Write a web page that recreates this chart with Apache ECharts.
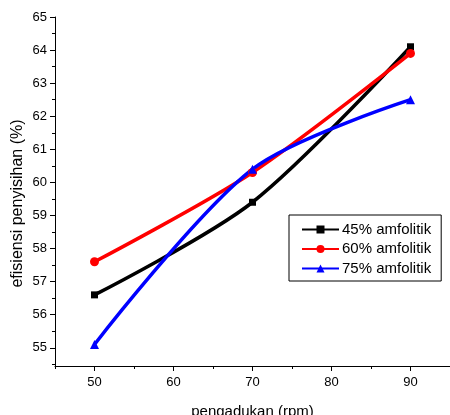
<!DOCTYPE html>
<html>
<head>
<meta charset="utf-8">
<script src="https://cdn.jsdelivr.net/npm/echarts@6/dist/echarts.min.js"></script>
<style>
  html, body { margin: 0; padding: 0; background: #fff; }
  #chart { width: 450px; height: 415px; }
</style>
</head>
<body>
<div id="chart"></div>
<script>
// pengadukan (rpm)
const rpm = [50, 70, 90];
const amf45 = [56.6, 59.4, 64.1];
const amf60 = [57.6, 60.3, 63.9];
const amf75 = [55.1, 60.4, 62.5];
const names = ['45% amfolitik', '60% amfolitik', '75% amfolitik'];
const yTicks = [55, 56, 57, 58, 59, 60, 61, 62, 63, 64, 65];
const yMinor = [54.5, 55.5, 56.5, 57.5, 58.5, 59.5, 60.5, 61.5, 62.5, 63.5, 64.5];
const xTicks = [50, 60, 70, 80, 90];
const xMinor = [45, 55, 65, 75, 85, 95];

const font = 'Liberation Sans, Arial, sans-serif';
const Y_MIN = 54.45, Y_MAX = 65;

function pairs(ys) {
  return rpm.map((x, i) => [x, ys[i]]);
}

function mkSeries(name, ys, color, symbol, size) {
  return {
    name: name,
    type: 'line',
    data: pairs(ys),
    smooth: 0.3,
    symbol: symbol,
    symbolSize: size,
    showAllSymbol: true,
    lineStyle: { color: color, width: 3.5 },
    itemStyle: { color: color },
    z: 3
  };
}

const chart = echarts.init(document.getElementById('chart'));
chart.setOption({
  animation: false,
  backgroundColor: '#fff',
  grid: { left: 55, top: 17, right: 0, bottom: 49, containLabel: false, outerBoundsMode: 'none' },
  legend: {
    orient: 'vertical',
    left: 289,
    top: 215,
    padding: [7, 10, 5, 12],
    itemGap: 4.5,
    itemWidth: 37,
    itemHeight: 10,
    borderColor: '#000',
    borderWidth: 1,
    backgroundColor: '#fff',
    textStyle: { fontFamily: font, fontSize: 15, color: '#000', padding: [0, 0, 0, -2] },
    data: names
  },
  xAxis: [{
    type: 'value',
    min: 45,
    max: 95,
    name: 'pengadukan (rpm)',
    nameLocation: 'middle',
    nameGap: 38,
    nameMoveOverlap: false,
    nameTextStyle: { fontFamily: font, fontSize: 15, color: '#000' },
    axisLine: { show: true, lineStyle: { color: '#000', width: 1 } },
    axisTick: { show: true, length: 5, customValues: xTicks, lineStyle: { color: '#000' } },
    axisLabel: { fontFamily: font, fontSize: 13, color: '#000', margin: 10, customValues: xTicks },
    splitLine: { show: false }
  }, {
    type: 'value',
    position: 'bottom',
    min: 45,
    max: 95,
    axisLine: { show: false },
    axisTick: { show: true, length: 3, customValues: xMinor, lineStyle: { color: '#000' } },
    axisLabel: { show: false },
    splitLine: { show: false }
  }],
  yAxis: [{
    type: 'value',
    min: Y_MIN,
    max: Y_MAX,
    name: 'efisiensi penyisihan (%)',
    nameLocation: 'middle',
    nameGap: 29,
    nameMoveOverlap: false,
    nameTextStyle: { fontFamily: font, fontSize: 16, color: '#000', padding: [0, 24, 0, 0] },
    axisLine: { show: true, lineStyle: { color: '#000', width: 1 } },
    axisTick: { show: true, length: 5, customValues: yTicks, lineStyle: { color: '#000' } },
    axisLabel: { fontFamily: font, fontSize: 13, color: '#000', margin: 8, customValues: yTicks },
    splitLine: { show: false }
  }, {
    type: 'value',
    position: 'left',
    min: Y_MIN,
    max: Y_MAX,
    axisLine: { show: false },
    axisTick: { show: true, length: 3, customValues: yMinor, lineStyle: { color: '#000' } },
    axisLabel: { show: false },
    splitLine: { show: false }
  }],
  series: [
    mkSeries(names[0], amf45, '#000000', 'rect', 7),
    mkSeries(names[1], amf60, '#ff0000', 'circle', 9),
    mkSeries(names[2], amf75, '#0000ff', 'triangle', 9)
  ]
});
</script>
</body>
</html>
